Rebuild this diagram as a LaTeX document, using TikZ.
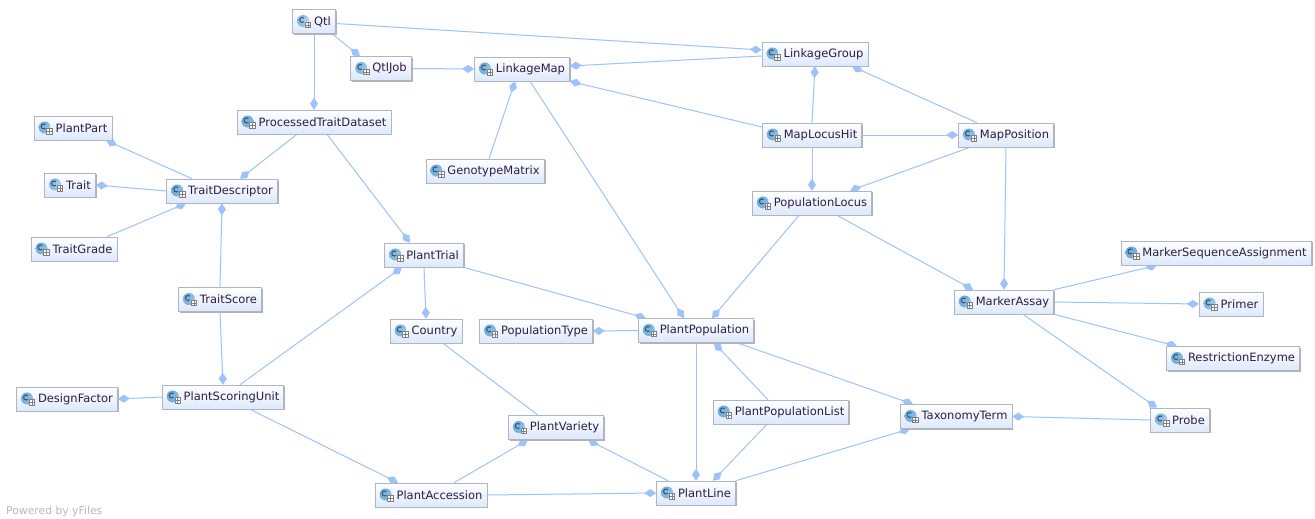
\documentclass[tikz,border=0pt]{standalone}
\usepackage{fontspec}
\setmainfont{DejaVu Sans}
\usetikzlibrary{arrows.meta,shadows,calc}
\pgfdeclarelayer{background}
\pgfsetlayers{background,main}
\definecolor{edgeblue}{RGB}{158,195,252}
\definecolor{boxbot}{RGB}{221,232,250}
\definecolor{boxline}{RGB}{172,182,198}
\definecolor{iconblue}{RGB}{105,170,220}
\definecolor{iconlight}{RGB}{215,238,252}
\definecolor{iconletter}{RGB}{60,80,110}
\definecolor{txt}{RGB}{45,30,70}
\definecolor{poweredgray}{RGB}{185,185,185}
\tikzset{
  cls/.style={rectangle, draw=boxline, line width=0.6pt,
    top color=white, bottom color=boxbot,
    minimum height=24pt, inner xsep=4.5pt, inner ysep=0pt,
    font=\fontsize{11.5}{13}\selectfont, text=txt,
    drop shadow={shadow xshift=1.4pt, shadow yshift=-1.4pt, fill=black!30, opacity=1},
    path picture={
      \shade[inner color=iconlight, outer color=iconblue]
        ($(path picture bounding box.west)+(10.5pt,0.5pt)$) circle[radius=6pt];
      \draw[iconletter, line width=1pt]
        ($(path picture bounding box.west)+(9.5pt+1.8pt,1.5pt+1.8pt)$)
        arc[start angle=45, end angle=315, radius=2.5pt];
      \filldraw[fill=white, draw=gray, line width=0.4pt]
        ($(path picture bounding box.west)+(12.5pt,-6pt)$) rectangle ++(5.5pt,5.5pt);
      \draw[gray, line width=0.3pt]
        ($(path picture bounding box.west)+(12.5pt,-3.3pt)$) -- ++(5.5pt,0)
        ($(path picture bounding box.west)+(15.2pt,-6pt)$) -- ++(0,5.5pt);
    }},
  rel/.style={draw=edgeblue, line width=1pt, -{Diamond[length=12pt,width=8pt,fill=edgeblue]}},
  plainrel/.style={draw=edgeblue, line width=1pt},
  powered/.style={font=\fontsize{10.8}{12}\selectfont, text=poweredgray, anchor=west, inner sep=0pt}
}
\newcommand{\clsname}[1]{\hspace*{17pt}#1}
\begin{document}
\begin{tikzpicture}[x=1pt, y=-1pt]
\useasboundingbox (0,0) rectangle (1315,519);
\node[cls] (qtl) at (314,21.5) {\clsname{Qtl}};
\node[cls] (qtljob) at (381,68.5) {\clsname{QtlJob}};
\node[cls] (lmap) at (522,69) {\clsname{LinkageMap}};
\node[cls] (lgroup) at (815,54) {\clsname{LinkageGroup}};
\node[cls] (ptd) at (314,122) {\clsname{ProcessedTraitDataset}};
\node[cls] (ppart) at (73,128) {\clsname{PlantPart}};
\node[cls] (trait) at (70,185) {\clsname{Trait}};
\node[cls] (tdesc) at (222,191) {\clsname{TraitDescriptor}};
\node[cls] (tgrade) at (74,249) {\clsname{TraitGrade}};
\node[cls] (gmat) at (485,171) {\clsname{GenotypeMatrix}};
\node[cls] (mlh) at (812,135) {\clsname{MapLocusHit}};
\node[cls] (mpos) at (1006,135) {\clsname{MapPosition}};
\node[cls] (ploc) at (812,203) {\clsname{PopulationLocus}};
\node[cls] (ptrial) at (424,255) {\clsname{PlantTrial}};
\node[cls] (country) at (426,331) {\clsname{Country}};
\node[cls] (ptype) at (536,331) {\clsname{PopulationType}};
\node[cls] (ppop) at (696,330.5) {\clsname{PlantPopulation}};
\node[cls] (tscore) at (220,299.5) {\clsname{TraitScore}};
\node[cls] (dfac) at (67,399) {\clsname{DesignFactor}};
\node[cls] (psu) at (223,397) {\clsname{PlantScoringUnit}};
\node[cls] (pacc) at (431,495) {\clsname{PlantAccession}};
\node[cls] (pvar) at (556,427.5) {\clsname{PlantVariety}};
\node[cls] (pline) at (696,493) {\clsname{PlantLine}};
\node[cls] (ppl) at (781,412) {\clsname{PlantPopulationList}};
\node[cls] (tax) at (956,416.5) {\clsname{TaxonomyTerm}};
\node[cls] (massay) at (1004,302) {\clsname{MarkerAssay}};
\node[cls] (msa) at (1216,253) {\clsname{MarkerSequenceAssignment}};
\node[cls] (primer) at (1231,304) {\clsname{Primer}};
\node[cls] (renz) at (1233,358.5) {\clsname{RestrictionEnzyme}};
\node[cls] (probe) at (1180,420) {\clsname{Probe}};
\node[powered] (yfiles) at (6,512) {Powered by yFiles};
\begin{pgfonlayer}{background}
\fill[white] (0,0) rectangle (1315,519);
\draw[rel] ([yshift=-2pt]qtl.east) -- ([yshift=4pt]lgroup.west);
\draw[rel] ([xshift=18pt]qtl.south) -- ([xshift=-21pt]qtljob.north);
\draw[rel] (qtl.south) -- (ptd.north);
\draw[rel] (qtljob.east) -- (lmap.west);
\draw[rel] ([yshift=-2pt]lgroup.west) -- ([yshift=3pt]lmap.east);
\draw[rel] ([yshift=8pt]mlh.west) -- (lmap.south east);
\draw[rel] ([xshift=4pt]gmat.north) -- ([xshift=-7pt]lmap.south);
\draw[rel] ([xshift=8pt]lmap.south) -- ([xshift=-12pt]ppop.north);
\draw[rel] (mlh.north) -- (lgroup.south);
\draw[rel] ([xshift=-29pt]mpos.north) -- ([xshift=37pt]lgroup.south);
\draw[rel] (mlh.east) -- (mpos.west);
\draw[rel] (mlh.south) -- (ploc.north);
\draw[rel] ([xshift=-36pt]mpos.south) -- ([xshift=38pt]ploc.north);
\draw[rel] (mpos.south) -- (massay.north);
\draw[rel] ([xshift=25pt]ploc.south) -- ([xshift=-31pt]massay.north);
\draw[rel] ([xshift=-13pt]ploc.south) -- ([xshift=16pt]ppop.north);
\draw[rel] ([xshift=-17pt]ptd.south) -- ([xshift=18pt]tdesc.north);
\draw[rel] ([xshift=13pt]ptd.south) -- ([xshift=-14pt]ptrial.north);
\draw[rel] ([xshift=-30pt]tdesc.north) -- ([xshift=33pt]ppart.south);
\draw[rel] (tdesc.west) -- (trait.east);
\draw[rel] ([xshift=33pt]tgrade.north) -- ([xshift=-36pt]tdesc.south);
\draw[rel] (tscore.north) -- (tdesc.south);
\draw[rel] (tscore.south) -- (psu.north);
\draw[rel] (psu.west) -- (dfac.east);
\draw[rel] ([xshift=17pt]psu.north) -- ([xshift=-22pt]ptrial.south);
\draw[rel] ([xshift=27pt]psu.south) -- ([xshift=-33pt]pacc.north);
\draw[rel] (ptrial.south) -- (country.north);
\draw[rel] (ptrial.south east) -- ([xshift=-50pt]ppop.north);
\draw[plainrel] ([xshift=17pt]country.south) -- ([xshift=-18pt]pvar.north);
\draw[rel] ([xshift=23pt]pacc.north) -- ([xshift=-28pt]pvar.south);
\draw[rel] ([xshift=-28pt]pline.north) -- ([xshift=32pt]pvar.south);
\draw[rel] (pacc.east) -- (pline.west);
\draw[rel] (ppop.west) -- (ptype.east);
\draw[rel] (ppop.south) -- (pline.north);
\draw[rel] ([xshift=-13pt]ppl.north) -- ([xshift=18pt]ppop.south);
\draw[rel] ([xshift=-14pt]ppl.south) -- ([xshift=17pt]pline.north);
\draw[rel] ([xshift=41pt]ppop.south) -- ([xshift=-43pt]tax.north);
\draw[rel] (pline.north east) -- ([xshift=-46pt]tax.south);
\draw[rel] (probe.west) -- (tax.east);
\draw[rel] (massay.north east) -- ([xshift=-59pt]msa.south);
\draw[rel] (massay.east) -- (primer.west);
\draw[rel] (massay.south east) -- ([xshift=-56pt]renz.north);
\draw[rel] ([xshift=19pt]massay.south) -- ([xshift=-23pt]probe.north);
\end{pgfonlayer}
\end{tikzpicture}
\end{document}
